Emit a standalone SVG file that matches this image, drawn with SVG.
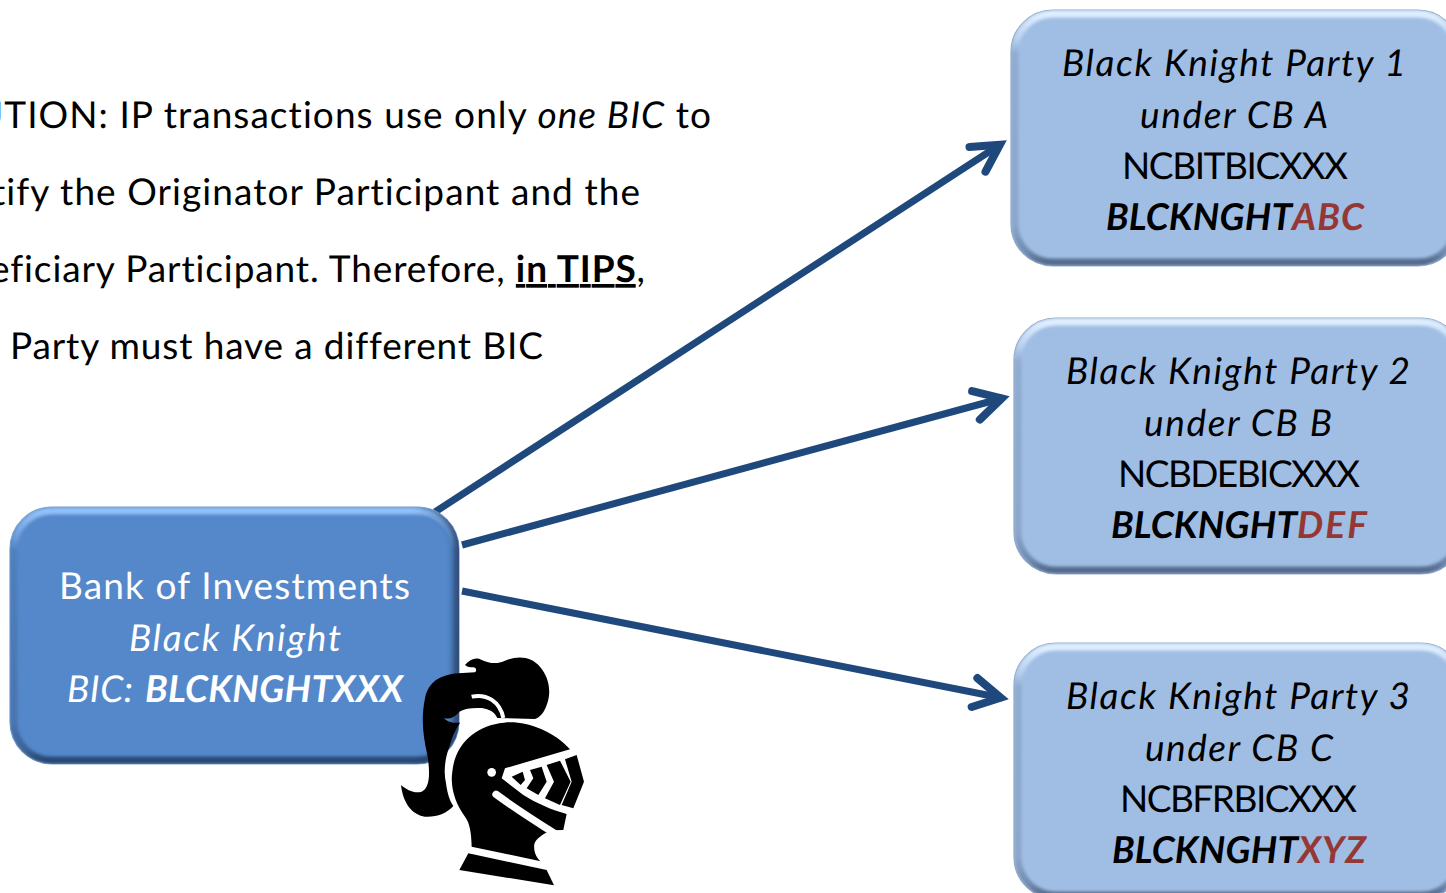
<svg xmlns="http://www.w3.org/2000/svg" width="1446" height="893" viewBox="0 0 1446 893">
<style>
text{font-family:"Lato","Open Sans","Liberation Sans",sans-serif;font-size:37px;fill:#000;text-rendering:geometricPrecision;font-variant-ligatures:none}
.w{fill:#fff}.i{font-style:italic}.b{font-weight:700}.r{fill:#953735}.u{text-decoration:underline;text-decoration-skip-ink:none}
.conn{fill:none;stroke:#1f497d;stroke-width:7;marker-end:url(#head)}
.dark{fill:#5488ca;stroke:#7c9cc6;stroke-width:1.2}
.light{fill:#a0bee4;stroke:#93a9c6;stroke-width:1.2}
.bev{fill:none;stroke-width:7;filter:url(#soft)}
.side{fill:none;stroke-width:10;filter:url(#soft2)}
</style>
<defs>
<marker id="head" viewBox="-1 -4 9 8" refX="4" refY="0" markerWidth="9" markerHeight="8" markerUnits="strokeWidth" orient="auto">
<path d="M0,-2.1L3.8,0L0,2.1" fill="none" stroke="#1f497d" stroke-width="1.15" stroke-linecap="round"/>
</marker>
<filter id="soft" x="-5%" y="-5%" width="110%" height="110%"><feGaussianBlur stdDeviation="1.8"/></filter>
<filter id="soft2" x="-5%" y="-5%" width="110%" height="110%"><feGaussianBlur stdDeviation="3"/></filter>
<linearGradient id="bd" x1="0" y1="0" x2="0" y2="1">
<stop offset="0" stop-color="#93c2fa"/><stop offset=".1" stop-color="#6f9fdc"/><stop offset=".16" stop-color="#4f7fbe"/><stop offset=".85" stop-color="#4874ae"/><stop offset=".96" stop-color="#3a6296"/><stop offset="1" stop-color="#28466f"/>
</linearGradient>
<linearGradient id="bl" x1="0" y1="0" x2="0" y2="1">
<stop offset="0" stop-color="#e0efff"/><stop offset=".1" stop-color="#b8d2f0"/><stop offset=".16" stop-color="#8fabd0"/><stop offset=".85" stop-color="#8ba6ca"/><stop offset=".96" stop-color="#6f8aae"/><stop offset="1" stop-color="#52688a"/>
</linearGradient>
<linearGradient id="sd" x1="0" y1="0" x2="1" y2="0">
<stop offset=".9" stop-color="#1a3358" stop-opacity="0"/><stop offset="1" stop-color="#1a3358" stop-opacity=".75"/>
</linearGradient>
<clipPath id="c0"><rect x="10" y="507" width="449" height="257" rx="42"/></clipPath>
<clipPath id="c1"><rect x="1011" y="10" width="449" height="256" rx="42"/></clipPath>
<clipPath id="c2"><rect x="1014" y="318" width="449" height="256" rx="42"/></clipPath>
<clipPath id="c3"><rect x="1014" y="643" width="449" height="256" rx="42"/></clipPath>
</defs>
<rect width="1446" height="893" fill="#fff"/>

<g id="caution-note">
<text x="-24" y="128" textLength="735">UTION: IP transactions use only <tspan class="i">one BIC</tspan> to</text>
<text x="-8" y="205" textLength="648">tify the Originator Participant and the</text>
<text x="-10" y="282" textLength="655">eficiary Participant. Therefore, <tspan class="b u">in TIPS</tspan>,</text>
<text x="10" y="359" textLength="533">Party must have a different BIC</text>
</g>

<g id="connectors">
<path class="conn" d="M435,512L1001,144"/>
<path class="conn" d="M462,545L1003,398"/>
<path class="conn" d="M462,591L1002,698"/>
</g>

<g id="bank-of-investments">
<rect class="dark" x="10" y="507" width="449" height="257" rx="42"/>
<g clip-path="url(#c0)">
<rect class="bev" x="14" y="511" width="441" height="249" rx="38" stroke="url(#bd)"/>
<rect class="side" x="10" y="507" width="449" height="257" rx="42" stroke="url(#sd)"/>
</g>
<text class="w" x="59" y="599" textLength="351">Bank of Investments</text>
<text class="w i" x="129" y="651" textLength="212">Black Knight</text>
<text class="w i" x="67" y="702" textLength="66">BIC:</text>
<text class="w i b" x="145" y="702" textLength="258">BLCKNGHTXXX</text>
</g>

<g id="knight" transform="translate(390 640) scale(.3333)">
<path d="M225,75C240,58 258,50 275,60C300,72 325,72 345,62C385,45 425,50 450,80C475,110 485,150 472,190C462,220 450,232 435,237L322,234C312,210 285,203 262,204C240,204 222,207 208,215C195,232 175,240 160,233C175,248 195,250 210,248C195,270 185,295 178,320C165,355 160,395 168,430C172,460 180,485 190,498C170,520 140,532 105,530C70,525 40,495 33,435C50,450 75,462 95,455C118,445 122,405 112,345C100,290 92,240 105,175C115,125 150,105 205,100L255,97C262,92 258,82 250,82C240,82 232,82 225,75Z"/>
<path d="M245,170C290,160 330,185 340,234" fill="none" stroke="#fff" stroke-width="12"/>
<path d="M342,248C400,240 490,270 540,328L345,385L335,415L400,465C440,490 485,510 530,522L520,570L482,571C460,582 438,596 433,612C430,635 440,655 452,664L245,620C244,580 240,550 225,530C195,490 180,440 187,395C195,310 260,255 342,248Z"/>
<circle cx="305" cy="397" r="13" fill="#fff"/>
<path d="M365,410L398,395L405,420L392,435Z"/>
<path d="M420,390L455,380L470,425L445,465L410,445L430,415Z"/>
<path d="M470,375L510,362L542,425L510,495L465,475L492,425Z"/>
<path d="M525,358L560,345L582,425L550,505L515,495L545,425Z"/>
<path d="M318,463C375,505 430,540 490,578" fill="none" stroke="#fff" stroke-width="22" stroke-linecap="round"/>
<path d="M235,640L470,690L492,736L208,690Z"/>
</g>

<g id="party-1">
<rect class="light" x="1011" y="10" width="449" height="256" rx="42"/>
<g clip-path="url(#c1)"><rect class="bev" x="1015" y="14" width="441" height="248" rx="38" stroke="url(#bl)"/></g>
<text class="i" x="1062" y="76" textLength="344">Black Knight Party 1</text>
<text class="i" x="1140" y="128" textLength="188">under CB A</text>
<text x="1122" y="179" textLength="226">NCBITBICXXX</text>
<text class="i b" x="1106" y="230" textLength="186">BLCKNGHT</text>
<text class="i b r" x="1292" y="230" textLength="72">ABC</text>
</g>

<g id="party-2">
<rect class="light" x="1014" y="318" width="449" height="256" rx="42"/>
<g clip-path="url(#c2)"><rect class="bev" x="1018" y="322" width="441" height="248" rx="38" stroke="url(#bl)"/></g>
<text class="i" x="1066" y="384" textLength="344">Black Knight Party 2</text>
<text class="i" x="1144" y="436" textLength="188">under CB B</text>
<text x="1118" y="487" textLength="242">NCBDEBICXXX</text>
<text class="i b" x="1111" y="538" textLength="186">BLCKNGHT</text>
<text class="i b r" x="1297" y="538" textLength="70">DEF</text>
</g>

<g id="party-3">
<rect class="light" x="1014" y="643" width="449" height="256" rx="42"/>
<g clip-path="url(#c3)"><rect class="bev" x="1018" y="647" width="441" height="248" rx="38" stroke="url(#bl)"/></g>
<text class="i" x="1066" y="709" textLength="344">Black Knight Party 3</text>
<text class="i" x="1145" y="761" textLength="188">under CB C</text>
<text x="1120" y="812" textLength="237">NCBFRBICXXX</text>
<text class="i b" x="1112" y="863" textLength="186">BLCKNGHT</text>
<text class="i b r" x="1298" y="863" textLength="68">XYZ</text>
</g>
</svg>
